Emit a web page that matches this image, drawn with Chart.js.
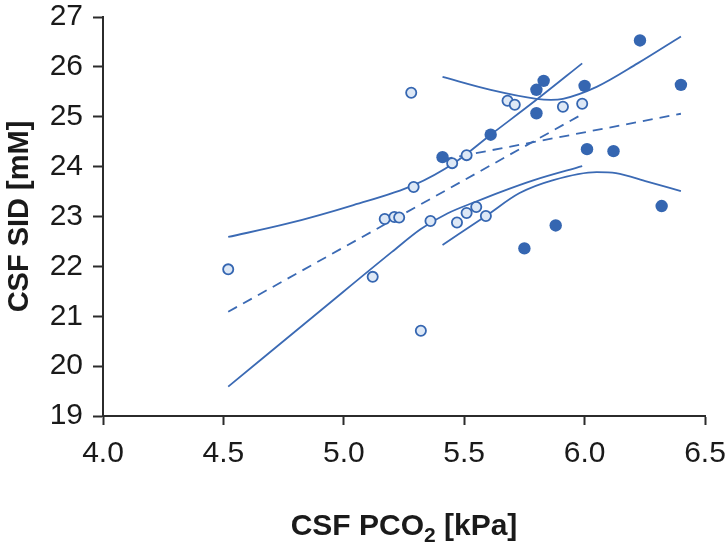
<!DOCTYPE html>
<html>
<head>
<meta charset="utf-8">
<script src="https://cdn.jsdelivr.net/npm/chart.js@4"></script>
<style>
  html, body { margin: 0; padding: 0; background: #fff; }
  #wrap { width: 727px; height: 551px; }
</style>
</head>
<body>
<div id="wrap"><canvas id="sidChart" width="727" height="551"></canvas></div>
<script>
// Datos
const openX = [4.52, 5.12, 5.17, 5.21, 5.23, 5.28, 5.29, 5.32, 5.36, 5.45, 5.47, 5.51, 5.51, 5.55, 5.59, 5.68, 5.71, 5.91, 5.99];
const openY = [21.94, 21.79, 22.95, 22.99, 22.98, 25.48, 23.59, 20.71, 22.91, 24.07, 22.88, 24.23, 23.07, 23.19, 23.01, 25.32, 25.24, 25.20, 25.26];

const filledX = [5.41, 5.61, 5.75, 5.80, 5.83, 5.80, 5.88, 6.00, 6.01, 6.12, 6.23, 6.32, 6.40];
const filledY = [24.19, 24.64, 22.36, 25.54, 25.72, 25.07, 22.82, 25.62, 24.35, 24.31, 26.53, 23.21, 25.64];

// Rectas de regresión (discontinuas)
const openFitX = [4.52, 5.99];
const openFitY = [21.09, 25.05];
const filledFitX = [5.41, 6.40];
const filledFitY = [24.14, 25.06];

// Bandas de confianza (continuas)
const openUpX = [4.52, 4.76, 5.04, 5.29, 5.46, 5.61, 5.80, 5.99];
const openUpY = [22.59, 22.85, 23.23, 23.63, 24.08, 24.64, 25.34, 26.07];
const openLowX = [4.52, 4.90, 5.20, 5.32, 5.43, 5.55, 5.65, 5.79, 5.99];
const openLowY = [19.59, 21.10, 22.29, 22.75, 23.06, 23.30, 23.49, 23.73, 24.01];
const filledUpX = [5.41, 5.61, 5.80, 5.86, 5.91, 6.05, 6.22, 6.40];
const filledUpY = [25.80, 25.54, 25.36, 25.34, 25.36, 25.60, 26.07, 26.61];
const filledLowX = [5.41, 5.59, 5.73, 5.87, 6.05, 6.13, 6.26, 6.40];
const filledLowY = [22.43, 23.01, 23.47, 23.73, 23.89, 23.87, 23.70, 23.51];

const xTicks = [4.0, 4.5, 5.0, 5.5, 6.0, 6.5];
const yTicks = [19, 20, 21, 22, 23, 24, 25, 26, 27];

const blue = '#3566b1';
const lineBlue = '#3b6ab4';
const axisColor = '#2b2b2b';

const pts = (xs, ys) => xs.map((x, i) => ({ x: x, y: ys[i] }));

function curve(xs, ys, dashed) {
    return {
        data: pts(xs, ys),
        showLine: true,
        borderColor: lineBlue,
        borderWidth: 1.8,
        borderDash: dashed ? [10, 7] : [],
        pointRadius: 0,
        pointHoverRadius: 0,
        fill: false,
        cubicInterpolationMode: dashed ? 'default' : 'monotone',
        order: 2
    };
}

// Título del eje X con subíndice
const xTitlePlugin = {
    id: 'xTitle',
    afterDraw(chart) {
        const ctx = chart.ctx;
        const area = chart.chartArea;
        const big = "bold 30px 'Liberation Sans', Arial, sans-serif";
        const small = "bold 21px 'Liberation Sans', Arial, sans-serif";
        const a = 'CSF PCO', b = '2', c = ' [kPa]';
        ctx.save();
        ctx.fillStyle = '#1a1a1a';
        ctx.textBaseline = 'alphabetic';
        ctx.textAlign = 'left';
        ctx.font = big;
        const wa = ctx.measureText(a).width, wc = ctx.measureText(c).width;
        ctx.font = small;
        const wb = ctx.measureText(b).width;
        let x = (area.left + area.right) / 2 - (wa + wb + wc) / 2;
        const y = 535;
        ctx.font = big;
        ctx.fillText(a, x, y);
        x += wa;
        ctx.font = small;
        ctx.fillText(b, x, y + 7);
        x += wb;
        ctx.font = big;
        ctx.fillText(c, x, y);
        ctx.restore();
    }
};

const ctx = document.getElementById('sidChart').getContext('2d');
new Chart(ctx, {
    type: 'scatter',
    data: {
        datasets: [
            {
                data: pts(openX, openY),
                pointRadius: 5.1,
                pointBorderWidth: 1.8,
                pointBackgroundColor: '#dde8f6',
                pointBorderColor: blue,
                order: 0
            },
            {
                data: pts(filledX, filledY),
                pointRadius: 6.2,
                pointBorderWidth: 0,
                pointBackgroundColor: blue,
                pointBorderColor: blue,
                order: 1
            },
            curve(openFitX, openFitY, true),
            curve(filledFitX, filledFitY, true),
            curve(openUpX, openUpY, false),
            curve(openLowX, openLowY, false),
            curve(filledUpX, filledUpY, false),
            curve(filledLowX, filledLowY, false)
        ]
    },
    options: {
        responsive: false,
        animation: false,
        layout: { padding: { top: 17, right: 22, bottom: 0, left: 0 } },
        plugins: {
            legend: { display: false },
            tooltip: { enabled: false }
        },
        scales: {
            x: {
                type: 'linear',
                min: 4.0,
                max: 6.5,
                afterFit: (scale) => {
                    scale.height = 135;
                    scale.paddingLeft = 0;
                    scale.paddingRight = 0;
                },
                afterBuildTicks: (scale) => { scale.ticks = xTicks.map(v => ({ value: v })); },
                grid: {
                    drawOnChartArea: false,
                    drawTicks: true,
                    tickLength: 9,
                    tickWidth: 2,
                    tickColor: axisColor
                },
                border: { display: true, color: axisColor, width: 2 },
                ticks: {
                    color: '#1a1a1a',
                    padding: 12,
                    font: { family: "'Liberation Sans', Arial, sans-serif", size: 30, lineHeight: 1.1 },
                    callback: (v) => Number(v).toFixed(1)
                }
            },
            y: {
                type: 'linear',
                min: 19,
                max: 27,
                afterFit: (scale) => {
                    scale.width = 103;
                    scale.paddingTop = 0;
                    scale.paddingBottom = 0;
                },
                afterBuildTicks: (scale) => { scale.ticks = yTicks.map(v => ({ value: v })); },
                grid: {
                    drawOnChartArea: false,
                    drawTicks: true,
                    tickLength: 10,
                    tickWidth: 2,
                    tickColor: axisColor
                },
                border: { display: true, color: axisColor, width: 2 },
                ticks: {
                    color: '#1a1a1a',
                    padding: 10,
                    font: { family: "'Liberation Sans', Arial, sans-serif", size: 30, lineHeight: 1.1 }
                },
                title: {
                    display: true,
                    text: 'CSF SID [mM]',
                    color: '#1a1a1a',
                    padding: { top: 3, bottom: 0 },
                    font: { family: "'Liberation Sans', Arial, sans-serif", size: 29, weight: 'bold', lineHeight: 1.2 }
                }
            }
        }
    },
    plugins: [xTitlePlugin]
});
</script>
</body>
</html>
